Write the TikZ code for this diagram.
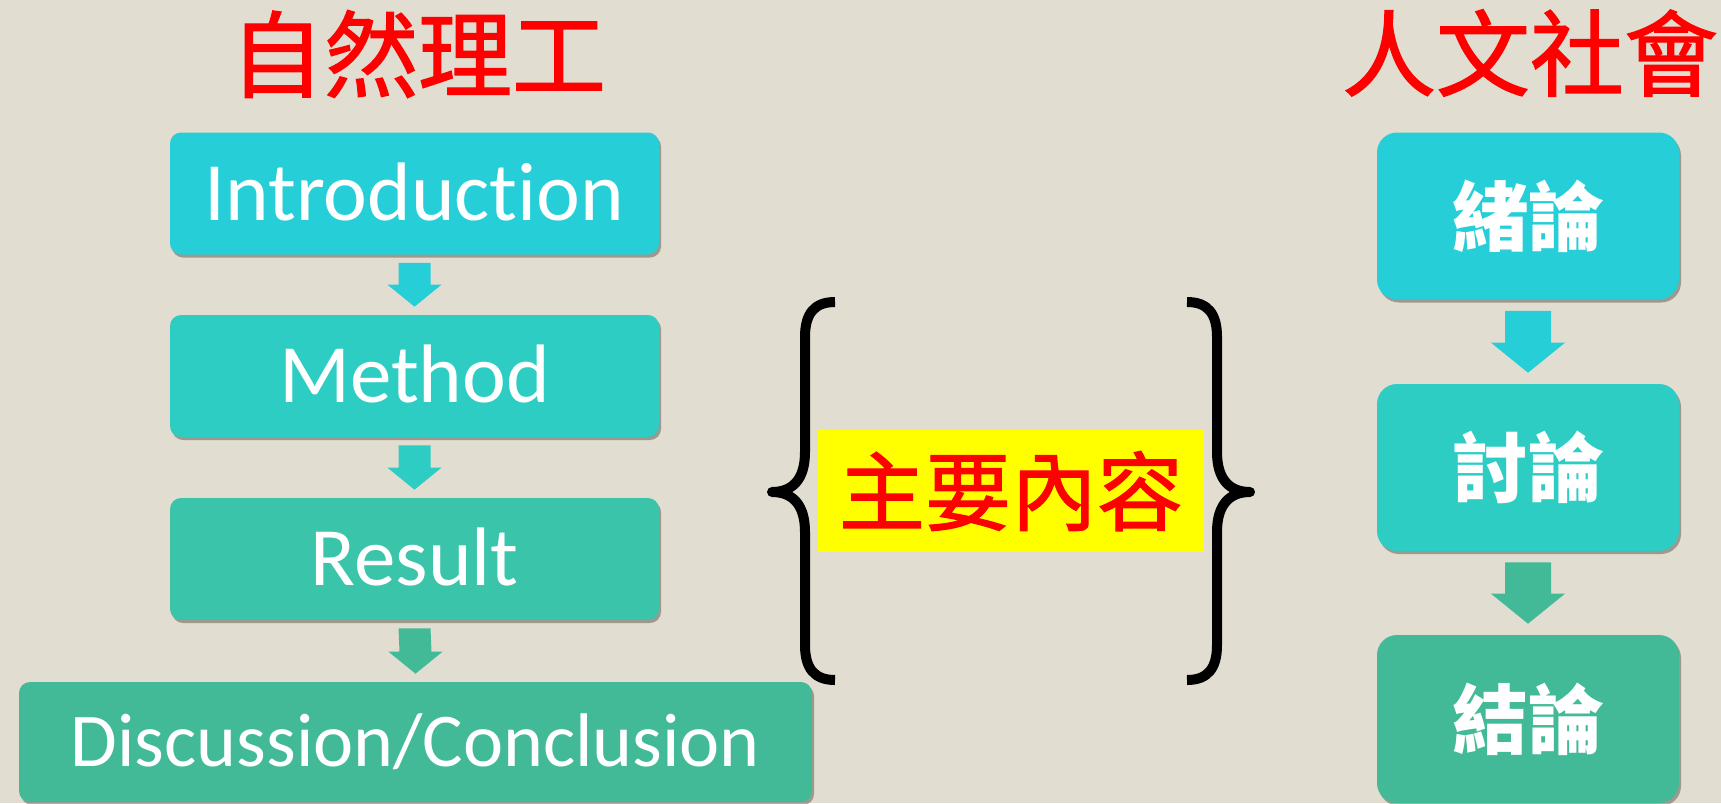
\documentclass[tikz,border=0pt]{standalone}
\usepackage{fontspec}
\setmainfont{Noto Sans CJK TC}
\newfontfamily\latinfont{Carlito}[Ligatures=NoCommon]
\newfontfamily\headfont{Noto Sans CJK TC}[FakeBold=1.4]
\usetikzlibrary{calc,shadows}
\definecolor{paper}{RGB}{226,221,209}
\definecolor{boxa}{RGB}{38,207,216}
\definecolor{boxb}{RGB}{46,205,196}
\definecolor{boxc}{RGB}{58,196,170}
\definecolor{boxd}{RGB}{66,186,151}
\definecolor{titlered}{RGB}{255,0,0}
\definecolor{markyellow}{RGB}{255,255,0}
% block arrow between two boxes: from, to, colour, half shaft, half head, head length
\newcommand\flowarrow[6]{\fill[#3] ($(#1.south)+(-#4,0.3*#5)$) -- ($(#1.south)+(#4,0.3*#5)$) -- ($(#2.north)+(#4,-0.3*#5-#6)$) -- ($(#2.north)+(#5,-0.3*#5-#6)$) -- ($(#2.north)+(0,-0.3*#5)$) -- ($(#2.north)+(-#5,-0.3*#5-#6)$) -- ($(#2.north)+(-#4,-0.3*#5-#6)$) -- cycle;}
\tikzset{
	boxshadow/.style={drop shadow={shadow xshift=2pt, shadow yshift=-3pt, opacity=.35, fill=black!80!brown}},
	scibox/.style={rectangle, rounded corners=11pt, minimum width=489pt, minimum height=122pt, inner sep=0pt, text=white, font=\latinfont\fontsize{83}{84}\selectfont, text height=53pt, text depth=0pt, boxshadow},
	humbox/.style={rectangle, rounded corners=20pt, minimum width=302pt, minimum height=167pt, inner sep=0pt, text=white, font=\bfseries\fontsize{76}{78}\selectfont, text height=58pt, text depth=0pt, boxshadow},
	headline/.style={text=titlered, inner sep=0pt, font=\headfont\fontsize{94}{96}\selectfont},
	curly/.style={line width=10pt, line join=round}
}

\begin{document}
\begin{tikzpicture}[x=1pt, y=-1pt]
			%%%%% START %%%%%
			
			\useasboundingbox (0, 0) rectangle (1721, 803);
			\fill[paper] (0, 0) rectangle (1721, 803);
			
			\node[headline] (sciTitle) at (418, 54) {自然理工};
			\node[headline] (humTitle) at (1530, 53) {人文社會};
			
			\node[scibox, fill=boxa] (intro) at (414.5, 193.5) {Introduction};
			\node[scibox, fill=boxb] (method) at (414.5, 376) {Method};
			\node[scibox, fill=boxc] (result) at (414.5, 559) {Result};
			\node[scibox, fill=boxd, minimum width=793pt, minimum height=120pt, font=\latinfont\fontsize{76}{78}\selectfont, text height=49pt] (disc) at (415.5, 742) {Discussion/Conclusion};
			
			\flowarrow{intro}{method}{boxa}{16}{27}{22}
			\flowarrow{method}{result}{boxb}{16}{27}{22}
			\flowarrow{result}{disc}{boxd}{16}{27}{22}
			
			\node[humbox, fill=boxa] (xulun) at (1528, 216) {緒論};
			\node[humbox, fill=boxb] (taolun) at (1528, 467.5) {討論};
			\node[humbox, fill=boxd, minimum height=168pt] (jielun) at (1528, 719) {結論};
			
			\flowarrow{xulun}{taolun}{boxa}{23}{37}{30}
			\flowarrow{taolun}{jielun}{boxd}{23}{37}{30}
			
			\draw[curly] (835, 302) .. controls (814, 302) and (805, 314) .. (805, 337) -- (805, 452) .. controls (805, 480) and (792, 492) .. (772, 492) .. controls (792, 492) and (805, 504) .. (805, 532) -- (805, 645) .. controls (805, 668) and (814, 680) .. (835, 680);
			\draw[curly] (1187, 302) .. controls (1208, 302) and (1217, 314) .. (1217, 337) -- (1217, 452) .. controls (1217, 480) and (1230, 492) .. (1250, 492) .. controls (1230, 492) and (1217, 504) .. (1217, 532) -- (1217, 645) .. controls (1217, 668) and (1208, 680) .. (1187, 680);
			
			\node[fill=markyellow, text=titlered, minimum width=386pt, minimum height=122pt, inner sep=0pt, font=\headfont\fontsize{86}{88}\selectfont] (mainPart) at (1011, 491) {主要內容};
			
			%%%%% END %%%%%
\end{tikzpicture}
\end{document}
